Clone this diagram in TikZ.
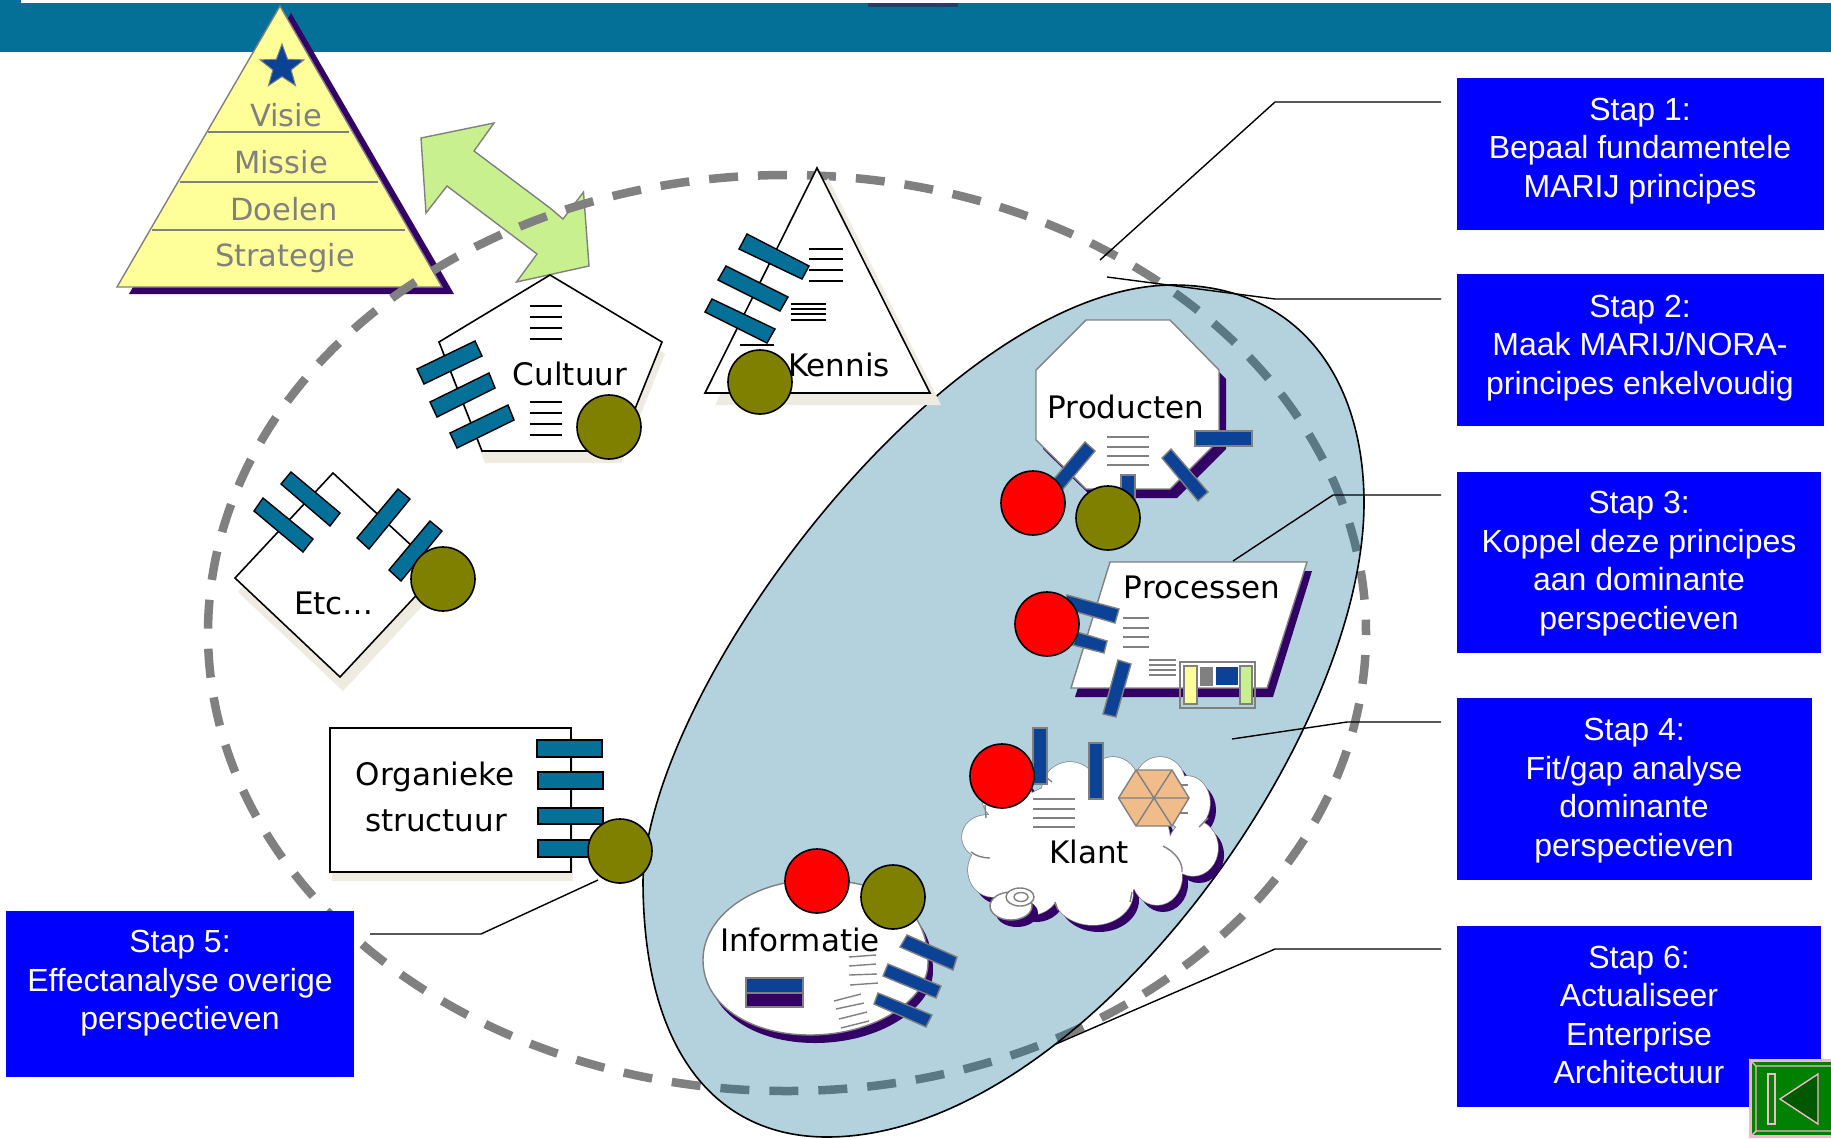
\documentclass[tikz,border=0pt]{standalone}
\usepackage{fontspec}
\setmainfont{Liberation Sans}
\newfontfamily\lucidaish{DejaVu Sans}
\definecolor{teal}{HTML}{046F97}
\definecolor{purp}{HTML}{330066}
\definecolor{dblue}{HTML}{0B4296}
\definecolor{olive}{HTML}{808000}
\definecolor{shad}{HTML}{EEECE1}
\definecolor{pyr}{HTML}{FFFF99}
\definecolor{arrowg}{HTML}{C8F08F}
\definecolor{gr}{HTML}{808080}
\definecolor{sky}{HTML}{006992}
\definecolor{pinkb}{HTML}{F2B8CC}
\definecolor{hexc}{HTML}{F0BC8A}
\definecolor{topdark}{HTML}{1F3F66}
\usetikzlibrary{shapes.geometric}
\tikzset{
 x=1pt,y=-1pt,
 stepbox/.style={draw=none,fill=blue},
 steptext/.style={text=white,align=center,font=\fontsize{32}{38.5}\selectfont,inner sep=0pt},
 lbl/.style={font=\lucidaish\fontsize{31}{31}\selectfont,text=black,inner sep=0pt},
 pyrlbl/.style={font=\lucidaish\fontsize{30.5}{30.5}\selectfont,text=gr,inner sep=0pt},
 leader/.style={draw=black,line width=1.4pt},
 tealrect/.style={draw=black,fill=teal,line width=1.4pt},
 bluerect/.style={draw=gr,fill=dblue,line width=1.4pt},
 bk/.style={draw=black,line width=1.6pt},
 gk/.style={draw=gr,line width=1.4pt},
 redc/.style={draw=black,fill=red,line width=1.6pt},
 olc/.style={draw=black,fill=olive,line width=1.6pt},
}
\def\blobpath{(1173,285) .. controls (1300,285) and (1364,380) .. (1364,503) .. controls (1364,740) and (1080,1137) .. (827,1137) .. controls (715,1137) and (643,1050) .. (643,880) .. controls (650,680) and (950,285) .. (1173,285) -- cycle}
\begin{document}
\begin{tikzpicture}
\clip (0,0) rectangle (1831,1138);
\fill[white] (0,0) rectangle (1831,1138);
% top band
\fill[teal] (0,3) rectangle (1831,52);
\fill[teal] (0,0) rectangle (21,3);
\fill[topdark] (868,3) rectangle (958,7);
% pyramid
\fill[purp] (291,13) -- (454,294) -- (129,294) -- cycle;
\draw[gk,fill=pyr] (280,6) -- (442,287) -- (117,287) -- cycle;
\draw[gk] (208,132) -- (349,132);
\draw[gk] (180,182) -- (378,182);
\draw[gk] (152,230) -- (405,230);
\node[star,star points=5,star point ratio=2.4,draw=gr,fill=dblue,minimum size=46pt,inner sep=0pt,line width=1pt] (st) at (282,67) {};
\node[pyrlbl] (visie) at (286,115) {Visie};
\node[pyrlbl] (missie) at (281,162) {Missie};
\node[pyrlbl] (doelen) at (284,209) {Doelen};
\node[pyrlbl] (strat) at (285,258) {Strategie};
% double arrow
\draw[gk,fill=arrowg] (421,138) -- (494,123) -- (474,151) -- (550,208) -- (563,219) -- (583.5,192) -- (589,266) -- (516.5,282) -- (537,254) -- (447,186) -- (426,213) -- cycle;
% dashed ellipse
\draw[gr,line width=8.5pt,dash pattern=on 29pt off 20pt,dash phase=27pt] (787,633) ellipse [x radius=579,y radius=458];
% blue shape
\fill[sky,fill opacity=.295] \blobpath;
\draw[black,line width=1.6pt] \blobpath;
% Cultuur
\fill[shad] (553,287) -- (665,354) -- (621,463) -- (485,463) -- (442,354) -- cycle;
\draw[bk,fill=white] (550,275) -- (662,342) -- (618,451) -- (482,451) -- (439,342) -- cycle;
\foreach \y in {306,317,328,339,402,413,424,435} \draw[bk] (530,\y) -- (562,\y);
\draw[tealrect] (417,369) -- (475,341) -- (482,356) -- (424,384) -- cycle;
\draw[tealrect] (430,402) -- (489,373) -- (495,388) -- (437,417) -- cycle;
\draw[tealrect] (450,433) -- (508,405) -- (514,420) -- (457,448) -- cycle;
\node[lbl] (cult) at (570,374) {Cultuur};
\draw[olc] (609,427) circle (32);
% Kennis
\fill[shad] (828,178) -- (941,405) -- (715,405) -- cycle;
\draw[bk,fill=white] (817,168) -- (930,393) -- (705,393) -- cycle;
\foreach \y in {249,259,270,281} \draw[bk] (809,\y) -- (843,\y);
\foreach \y in {304,309,314,320} \draw[bk] (791,\y) -- (826,\y);
\draw[bk] (740,345) -- (774,345);
\draw[tealrect] (747,234) -- (809,266) -- (802,279) -- (739,249) -- cycle;
\draw[tealrect] (726,266) -- (788,297) -- (780,311) -- (718,280) -- cycle;
\draw[tealrect] (712,299) -- (775,329) -- (767,343) -- (705,312) -- cycle;
\node[lbl] (kennis) at (839,365) {Kennis};
\draw[olc] (760,382) circle (32);
% Etc
\fill[shad] (336,487) -- (442,585) -- (343,691) -- (238,592) -- cycle;
\draw[bk,fill=white] (333,473) -- (439,571) -- (340,677) -- (235,578) -- cycle;
\draw[tealrect] (263,498) -- (313,539) -- (303,552) -- (254,511) -- cycle;
\draw[tealrect] (291,472) -- (340,513) -- (330,526) -- (281,484) -- cycle;
\draw[tealrect] (398,489) -- (410,499) -- (369,549) -- (357,538) -- cycle;
\draw[tealrect] (430,521) -- (442,531) -- (401,581) -- (389,570) -- cycle;
\node[lbl] (etc) at (334,603) {Etc…};
\draw[olc] (443,579) circle (32);
% Organieke
\fill[shad] (332,737) rectangle (573,881);
\draw[bk,fill=white] (330,728) rectangle (571,872);
\draw[tealrect] (537,740) rectangle (602,757);
\draw[tealrect] (538,772) rectangle (603,789);
\draw[tealrect] (538,808) rectangle (603,824);
\draw[tealrect] (538,840) rectangle (603,857);
\node[lbl] (org1) at (435,777) {Organieke};
\node[lbl] (org2) at (436,821) {structuur};
\draw[olc] (620,851) circle (32);
% Producten
\fill[purp] (1093,329) -- (1177,329) -- (1226,379) -- (1226,449) -- (1177,498) -- (1093,498) -- (1043,449) -- (1043,379) -- cycle;
\draw[gk,fill=white] (1086,320) -- (1170,320) -- (1219,370) -- (1219,440) -- (1170,489) -- (1086,489) -- (1036,440) -- (1036,370) -- cycle;
\foreach \y in {437,447,456,465} \draw[gk] (1107,\y) -- (1149,\y);
\node[lbl] (prod) at (1126,407) {Producten};
\draw[bluerect] (1085,442) -- (1095,451) -- (1058,495) -- (1048,486) -- cycle;
\draw[bluerect] (1121,475) rectangle (1135,505);
\draw[bluerect] (1162,458) -- (1171,449) -- (1208,492) -- (1198,501) -- cycle;
\draw[bluerect] (1195,431) rectangle (1252,446);
\draw[redc] (1033,503) circle (32);
\draw[olc] (1108,518) circle (32);
% Processen
\fill[purp] (1115,571) -- (1312,571) -- (1273,697) -- (1075,697) -- cycle;
\draw[gk,fill=white] (1110,562) -- (1307,562) -- (1267,688) -- (1071,688) -- cycle;
\node[lbl] (proc) at (1202,587) {Processen};
\foreach \y in {618,628,637,647} \draw[gk] (1123,\y) -- (1149,\y);
\foreach \y in {660,665,670,675} \draw[gk] (1149,\y) -- (1176,\y);
\draw[gk] (1180,662) rectangle (1255,708);
\draw[gk,fill=pyr] (1184,666) rectangle (1197,704);
\draw[draw=white,fill=gr,line width=1pt] (1199,666) rectangle (1213,686);
\draw[draw=white,fill=dblue,line width=1pt] (1215,666) rectangle (1238,685);
\draw[gk,fill=arrowg] (1240,666) rectangle (1252,704);
\draw[bluerect] (1067,595) -- (1119,609) -- (1115,623) -- (1063,608) -- cycle;
\draw[bluerect] (1077,632) -- (1107,641) -- (1104,653) -- (1073,645) -- cycle;
\draw[bluerect] (1118,660) -- (1131,664) -- (1116,717) -- (1103,714) -- cycle;
\draw[redc] (1047,624) circle (32);
% Klant
\def\cloudbumps{1070/790/28/28,1113/783/25/26,1160/783/25/26,1187/803/23/27,1193/848/25/28,1157/877/25/28,1093/893/40/32,1030/887/30/28,993/870/25/27,987/837/25/22,1007/797/25/25,1085/840/85/60}
\foreach \cx/\cy/\rx/\ry in \cloudbumps \fill[purp] (\cx+6,\cy+7) ellipse [x radius=\rx,y radius=\ry];
\foreach \cx/\cy/\rx/\ry in \cloudbumps \draw[gk] (\cx,\cy) ellipse [x radius=\rx,y radius=\ry];
\foreach \cx/\cy/\rx/\ry in \cloudbumps \fill[white] (\cx,\cy) ellipse [x radius=\rx,y radius=\ry];
\draw[gk] (1163,846) .. controls (1175,852) and (1183,862) .. (1182,872);
\draw[gk] (971,852) .. controls (976,856) and (983,858) .. (990,858);
\draw[gk] (1055,902) -- (1058,910);
\draw[gk] (1132,892) -- (1130,902);
\draw[gk] (1199,827) -- (1208,818);
\draw[gk] (1047,778) -- (1052,782);
\draw[gk] (985,805) -- (986,818);
\foreach \y in {799,809,818,827} \draw[gk] (1033,\y) -- (1075,\y);
\draw[bluerect] (1033,728) rectangle (1047,784);
\draw[bluerect] (1089,743) rectangle (1103,799);
\draw[redc] (1002,776) circle (32);
\draw[gk] (1180,785) -- (1188,785);
\draw[gk] (1180,813) -- (1188,813);
\draw[gk,fill=hexc] (1118.5,798) -- (1136,770) -- (1172,770) -- (1189,798) -- (1172,826) -- (1136,826) -- cycle;
\draw[gk] (1118.5,798) -- (1189,798) (1136,770) -- (1172,826) (1172,770) -- (1136,826);
\node[lbl] (klant) at (1089,852) {Klant};
\fill[purp] (1017,913) ellipse [x radius=21,y radius=14];
\draw[gk,fill=white] (1011,906) ellipse [x radius=21,y radius=14];
\draw[gk,fill=white] (1020,897) ellipse [x radius=14,y radius=9];
\draw[gk] (1021,897) ellipse [x radius=7,y radius=4.5];
% Informatie
\def\infopath{(703,960) .. controls (703,915) and (755,880) .. (815,880) .. controls (885,880) and (928,905) .. (928,963) .. controls (928,1000) and (875,1035) .. (810,1035) .. controls (750,1035) and (703,1005) .. (703,960) -- cycle}
\fill[purp,shift={(5,8)}] \infopath;
\draw[gk,fill=white] \infopath;
\node[lbl] (info) at (800,940) {Informatie};
\draw[gk] (849,957) -- (876,955) (849,966) -- (876,964) (849,975) -- (877,974) (850,985) -- (878,983);
\draw[gk] (834,1001) -- (861,994) (836,1009) -- (864,1003) (839,1019) -- (867,1012) (841,1028) -- (869,1021);
\draw[bluerect] (746,978) rectangle (803,993);
\draw[gk,fill=purp] (746,993) rectangle (803,1007);
\draw[bluerect] (907,935) -- (957,957) -- (953,970) -- (900,947) -- cycle;
\draw[bluerect] (888,964) -- (941,986) -- (936,998) -- (883,976) -- cycle;
\draw[bluerect] (878,993) -- (932,1015) -- (926,1027) -- (874,1004) -- cycle;
\draw[redc] (817,881) circle (32);
\draw[olc] (893,897) circle (32);
% step boxes
\fill[stepbox] (1457,78) rectangle (1824,230);
\fill[stepbox] (1457,274) rectangle (1824,426);
\fill[stepbox] (1457,472) rectangle (1821,653);
\fill[stepbox] (1457,698) rectangle (1812,880);
\fill[stepbox] (6,911) rectangle (354,1077);
\fill[stepbox] (1457,926) rectangle (1821,1107);
\node[steptext] (s1) at (1640,151) {Stap 1:\\Bepaal fundamentele\\MARIJ principes};
\node[steptext] (s2) at (1640,348) {Stap 2:\\Maak MARIJ/NORA-\\principes enkelvoudig};
\node[steptext] (s3) at (1639,563.5) {Stap 3:\\Koppel deze principes\\aan dominante\\perspectieven};
\node[steptext] (s4) at (1634,790.5) {Stap 4:\\Fit/gap analyse\\dominante\\perspectieven};
\node[steptext] (s5) at (180,983.5) {Stap 5:\\Effectanalyse overige\\perspectieven};
\node[steptext] (s6) at (1639,1015) {Stap 6:\\Actualiseer\\Enterprise\\Architectuur};
% leaders
\coordinate (l1a) at (1441,102); \coordinate (l1b) at (1275,102); \coordinate (l1c) at (1100,260);
\coordinate (l2a) at (1441,299); \coordinate (l2b) at (1275,299); \coordinate (l2c) at (1107,277);
\coordinate (l3a) at (1441,495); \coordinate (l3b) at (1333,495); \coordinate (l3c) at (1233,561);
\coordinate (l4a) at (1441,722); \coordinate (l4b) at (1347,722); \coordinate (l4c) at (1232,739);
\coordinate (l5a) at (370,934); \coordinate (l5b) at (481,934); \coordinate (l5c) at (598,880);
\coordinate (l6a) at (1441,949); \coordinate (l6b) at (1275,949); \coordinate (l6c) at (1056,1044);
\draw[leader] (l1a) -- (l1b) -- (l1c);
\draw[leader] (l2a) -- (l2b) -- (l2c);
\draw[leader] (l3a) -- (l3b) -- (l3c);
\draw[leader] (l4a) -- (l4b) -- (l4c);
\draw[leader] (l5a) -- (l5b) -- (l5c);
\draw[leader] (l6a) -- (l6b) -- (l6c);
% back button
\fill[pinkb] (1749,1059) rectangle (1831,1138);
\fill[green!50!black] (1752,1062) rectangle (1831,1135);
\draw[pinkb,line width=1.4pt] (1756,1066) -- (1831,1066) (1756,1066) -- (1756,1131) -- (1831,1131) (1749,1059) -- (1756,1066) (1749,1138) -- (1756,1131);
\draw[pinkb,line width=1.4pt] (1768,1074) rectangle (1775,1124);
\draw[pinkb,line width=1.4pt,fill=green!35!black] (1818,1074) -- (1818,1124) -- (1780,1099) -- cycle;
\end{tikzpicture}
\end{document}
